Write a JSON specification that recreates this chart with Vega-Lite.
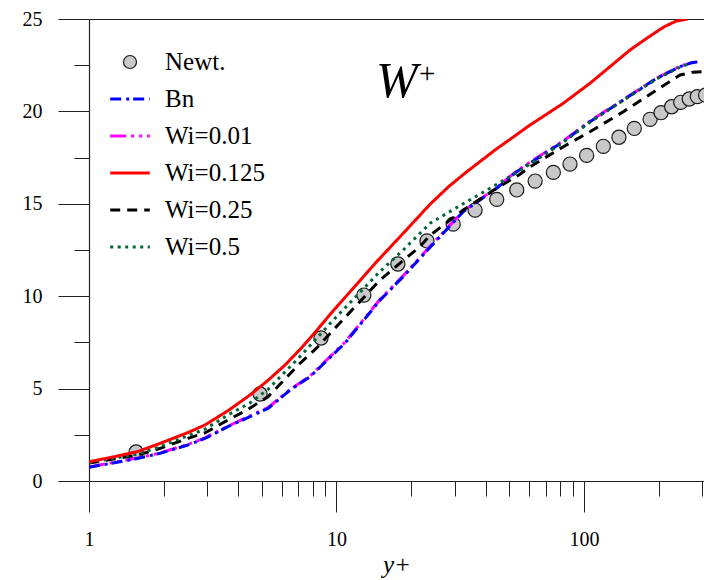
{
  "$schema": "https://vega.github.io/schema/vega-lite/v6.json",
  "width": 615,
  "height": 462,
  "autosize": {"type": "none"},
  "padding": {"left": 89, "top": 19, "right": 0, "bottom": 99},
  "background": "white",
  "config": {
    "view": {"stroke": null},
    "font": "Liberation Serif",
    "axis": {
      "labelFont": "Liberation Serif",
      "labelFontSize": 20,
      "labelColor": "#000",
      "tickColor": "#222",
      "tickWidth": 1,
      "domainColor": "#222",
      "domainWidth": 1.2,
      "grid": false,
      "labelFlush": false,
      "labelOverlap": false
    },
    "legend": {
      "labelFont": "Liberation Serif",
      "labelFontSize": 25,
      "labelColor": "#000",
      "labelOffset": 22.5,
      "rowPadding": 11,
      "padding": 0,
      "titlePadding": 0
    }
  },
  "resolve": {"axis": {"x": "independent", "y": "independent"}},
  "datasets": {
    "newt": [
      {"yp": 1.55, "w": 1.57, "s": "Newt."}, {"yp": 4.91, "w": 4.71, "s": "Newt."}, {"yp": 8.66, "w": 7.74, "s": "Newt."},
      {"yp": 12.9, "w": 10.06, "s": "Newt."}, {"yp": 17.7, "w": 11.74, "s": "Newt."}, {"yp": 23.2, "w": 12.99, "s": "Newt."},
      {"yp": 29.6, "w": 13.9, "s": "Newt."}, {"yp": 36.3, "w": 14.66, "s": "Newt."}, {"yp": 44.4, "w": 15.24, "s": "Newt."},
      {"yp": 53.5, "w": 15.75, "s": "Newt."}, {"yp": 63.5, "w": 16.23, "s": "Newt."}, {"yp": 75.2, "w": 16.7, "s": "Newt."},
      {"yp": 87.8, "w": 17.15, "s": "Newt."}, {"yp": 102.5, "w": 17.62, "s": "Newt."}, {"yp": 119.7, "w": 18.11, "s": "Newt."},
      {"yp": 138.4, "w": 18.6, "s": "Newt."}, {"yp": 159.7, "w": 19.08, "s": "Newt."}, {"yp": 184.9, "w": 19.57, "s": "Newt."},
      {"yp": 204.8, "w": 19.93, "s": "Newt."}, {"yp": 226, "w": 20.25, "s": "Newt."}, {"yp": 245.9, "w": 20.49, "s": "Newt."},
      {"yp": 266.3, "w": 20.67, "s": "Newt."}, {"yp": 287, "w": 20.8, "s": "Newt."}, {"yp": 310, "w": 20.88, "s": "Newt."}
    ],
    "lines": [
      {"s": "Wi=0.01", "x": 1, "y": 0.76}, {"s": "Wi=0.01", "x": 1.58, "y": 1.25}, {"s": "Wi=0.01", "x": 1.94, "y": 1.52},
      {"s": "Wi=0.01", "x": 2.51, "y": 1.98}, {"s": "Wi=0.01", "x": 2.94, "y": 2.33}, {"s": "Wi=0.01", "x": 3.64, "y": 2.96},
      {"s": "Wi=0.01", "x": 4.47, "y": 3.52}, {"s": "Wi=0.01", "x": 5.29, "y": 3.97}, {"s": "Wi=0.01", "x": 6.49, "y": 4.95},
      {"s": "Wi=0.01", "x": 7.82, "y": 5.68}, {"s": "Wi=0.01", "x": 10.8, "y": 7.5}, {"s": "Wi=0.01", "x": 15.0, "y": 9.83},
      {"s": "Wi=0.01", "x": 18.6, "y": 11.1}, {"s": "Wi=0.01", "x": 23.9, "y": 12.7}, {"s": "Wi=0.01", "x": 32.5, "y": 14.6},
      {"s": "Wi=0.01", "x": 44.4, "y": 15.88}, {"s": "Wi=0.01", "x": 53.5, "y": 16.78}, {"s": "Wi=0.01", "x": 66.4, "y": 17.6},
      {"s": "Wi=0.01", "x": 82.5, "y": 18.4}, {"s": "Wi=0.01", "x": 105.7, "y": 19.47}, {"s": "Wi=0.01", "x": 144.2, "y": 20.64},
      {"s": "Wi=0.01", "x": 196.7, "y": 21.8}, {"s": "Wi=0.01", "x": 244.4, "y": 22.45}, {"s": "Wi=0.01", "x": 270, "y": 22.63},
      {"s": "Wi=0.01", "x": 285, "y": 22.68},

      {"s": "Bn", "x": 1, "y": 0.74}, {"s": "Bn", "x": 1.58, "y": 1.23}, {"s": "Bn", "x": 1.94, "y": 1.5},
      {"s": "Bn", "x": 2.51, "y": 1.95}, {"s": "Bn", "x": 2.94, "y": 2.3}, {"s": "Bn", "x": 3.64, "y": 2.94},
      {"s": "Bn", "x": 4.47, "y": 3.48}, {"s": "Bn", "x": 5.29, "y": 3.93}, {"s": "Bn", "x": 6.49, "y": 4.92},
      {"s": "Bn", "x": 7.82, "y": 5.64}, {"s": "Bn", "x": 10.8, "y": 7.45}, {"s": "Bn", "x": 15.0, "y": 9.79},
      {"s": "Bn", "x": 18.6, "y": 11.06}, {"s": "Bn", "x": 23.9, "y": 12.65}, {"s": "Bn", "x": 32.5, "y": 14.57},
      {"s": "Bn", "x": 44.4, "y": 15.84}, {"s": "Bn", "x": 53.5, "y": 16.74}, {"s": "Bn", "x": 66.4, "y": 17.55},
      {"s": "Bn", "x": 82.5, "y": 18.36}, {"s": "Bn", "x": 105.7, "y": 19.44}, {"s": "Bn", "x": 144.2, "y": 20.62},
      {"s": "Bn", "x": 196.7, "y": 21.79}, {"s": "Bn", "x": 244.4, "y": 22.42}, {"s": "Bn", "x": 270, "y": 22.62},
      {"s": "Bn", "x": 290, "y": 22.69},

      {"s": "Wi=0.25", "x": 1, "y": 0.97}, {"s": "Wi=0.25", "x": 1.58, "y": 1.41}, {"s": "Wi=0.25", "x": 1.94, "y": 1.77},
      {"s": "Wi=0.25", "x": 2.51, "y": 2.31}, {"s": "Wi=0.25", "x": 2.94, "y": 2.6}, {"s": "Wi=0.25", "x": 3.64, "y": 3.3},
      {"s": "Wi=0.25", "x": 4.34, "y": 3.84}, {"s": "Wi=0.25", "x": 5.29, "y": 4.56}, {"s": "Wi=0.25", "x": 7.12, "y": 6.37},
      {"s": "Wi=0.25", "x": 8.32, "y": 7.2}, {"s": "Wi=0.25", "x": 9.71, "y": 8.17}, {"s": "Wi=0.25", "x": 12.0, "y": 9.49},
      {"s": "Wi=0.25", "x": 15.0, "y": 10.88}, {"s": "Wi=0.25", "x": 21.7, "y": 12.68}, {"s": "Wi=0.25", "x": 23.9, "y": 13.3},
      {"s": "Wi=0.25", "x": 32.5, "y": 14.66}, {"s": "Wi=0.25", "x": 44.4, "y": 15.84}, {"s": "Wi=0.25", "x": 55.1, "y": 16.6},
      {"s": "Wi=0.25", "x": 60.5, "y": 17.0}, {"s": "Wi=0.25", "x": 82.5, "y": 18.09}, {"s": "Wi=0.25", "x": 105.7, "y": 18.9},
      {"s": "Wi=0.25", "x": 144.2, "y": 19.98}, {"s": "Wi=0.25", "x": 196.7, "y": 21.16}, {"s": "Wi=0.25", "x": 244.4, "y": 21.97},
      {"s": "Wi=0.25", "x": 275, "y": 22.12}, {"s": "Wi=0.25", "x": 305, "y": 22.15},

      {"s": "Wi=0.5", "x": 1, "y": 1.0}, {"s": "Wi=0.5", "x": 1.58, "y": 1.46}, {"s": "Wi=0.5", "x": 1.94, "y": 1.86},
      {"s": "Wi=0.5", "x": 2.51, "y": 2.45}, {"s": "Wi=0.5", "x": 2.94, "y": 2.8}, {"s": "Wi=0.5", "x": 3.64, "y": 3.57},
      {"s": "Wi=0.5", "x": 4.47, "y": 4.22}, {"s": "Wi=0.5", "x": 5.29, "y": 4.96}, {"s": "Wi=0.5", "x": 7.12, "y": 6.73},
      {"s": "Wi=0.5", "x": 9.71, "y": 8.71}, {"s": "Wi=0.5", "x": 14.75, "y": 11.24}, {"s": "Wi=0.5", "x": 18.6, "y": 12.5},
      {"s": "Wi=0.5", "x": 23.9, "y": 13.95}, {"s": "Wi=0.5", "x": 32.5, "y": 15.0}, {"s": "Wi=0.5", "x": 44.4, "y": 16.05},
      {"s": "Wi=0.5", "x": 53.5, "y": 16.7}, {"s": "Wi=0.5", "x": 66.4, "y": 17.5}, {"s": "Wi=0.5", "x": 82.5, "y": 18.33},
      {"s": "Wi=0.5", "x": 105.7, "y": 19.42}, {"s": "Wi=0.5", "x": 144.2, "y": 20.6}, {"s": "Wi=0.5", "x": 196.7, "y": 21.76},
      {"s": "Wi=0.5", "x": 244.4, "y": 22.4}, {"s": "Wi=0.5", "x": 270, "y": 22.6},

      {"s": "Wi=0.125", "x": 1, "y": 1.04}, {"s": "Wi=0.125", "x": 1.25, "y": 1.3}, {"s": "Wi=0.125", "x": 1.58, "y": 1.6},
      {"s": "Wi=0.125", "x": 1.94, "y": 2.04}, {"s": "Wi=0.125", "x": 2.51, "y": 2.62}, {"s": "Wi=0.125", "x": 2.94, "y": 3.03},
      {"s": "Wi=0.125", "x": 3.64, "y": 3.8}, {"s": "Wi=0.125", "x": 4.47, "y": 4.65}, {"s": "Wi=0.125", "x": 5.29, "y": 5.45},
      {"s": "Wi=0.125", "x": 6.2, "y": 6.28}, {"s": "Wi=0.125", "x": 7.12, "y": 7.12}, {"s": "Wi=0.125", "x": 8.32, "y": 8.15},
      {"s": "Wi=0.125", "x": 9.71, "y": 9.22}, {"s": "Wi=0.125", "x": 12.0, "y": 10.6}, {"s": "Wi=0.125", "x": 14.75, "y": 11.96},
      {"s": "Wi=0.125", "x": 19.2, "y": 13.6}, {"s": "Wi=0.125", "x": 23.9, "y": 14.98}, {"s": "Wi=0.125", "x": 28.5, "y": 15.95},
      {"s": "Wi=0.125", "x": 33.5, "y": 16.72}, {"s": "Wi=0.125", "x": 43.7, "y": 17.91}, {"s": "Wi=0.125", "x": 60.5, "y": 19.26},
      {"s": "Wi=0.125", "x": 82.5, "y": 20.44}, {"s": "Wi=0.125", "x": 105.7, "y": 21.52}, {"s": "Wi=0.125", "x": 130, "y": 22.52},
      {"s": "Wi=0.125", "x": 153.4, "y": 23.32}, {"s": "Wi=0.125", "x": 179, "y": 23.95}, {"s": "Wi=0.125", "x": 209, "y": 24.55},
      {"s": "Wi=0.125", "x": 235, "y": 24.88}, {"s": "Wi=0.125", "x": 262, "y": 25.0}
    ]
  },
  "layer": [
    {
      "data": {"name": "newt"},
      "mark": {"type": "point", "shape": "circle", "filled": true, "fill": "#c8c8c8", "stroke": "#1a1a1a", "strokeWidth": 1.2, "size": 200, "opacity": 1, "clip": true},
      "encoding": {
        "x": {
          "field": "yp", "type": "quantitative",
          "scale": {"type": "log", "domain": [1, 305.4], "nice": false},
          "axis": {
            "orient": "bottom", "values": [1, 10, 100], "tickSize": 31, "labelPadding": 17, "labelFontSize": 20,
            "title": "y+", "titleFont": "Liberation Serif", "titleFontStyle": "italic", "titleFontWeight": "normal",
            "titleFontSize": 25, "titleColor": "#000", "titlePadding": 3, "domain": true
          }
        },
        "y": {
          "field": "w", "type": "quantitative",
          "scale": {"domain": [0, 25], "nice": false, "zero": false},
          "axis": {"orient": "left", "values": [0, 5, 10, 15, 20, 25], "tickSize": 31, "labelPadding": 16, "labelFontSize": 20, "title": null, "domain": true}
        },
        "shape": {
          "field": "s", "type": "nominal",
          "scale": {"domain": ["Newt."], "range": ["circle"]},
          "legend": {"orient": "none", "legendX": 28.5, "legendY": 30.5, "title": null, "symbolSize": 169, "symbolStrokeWidth": 1.2, "symbolOpacity": 1}
        }
      }
    },
    {
      "data": {"name": "lines"},
      "mark": {"type": "line", "strokeWidth": 3, "clip": true},
      "encoding": {
        "x": {
          "field": "x", "type": "quantitative",
          "scale": {"type": "log", "domain": [1, 305.4], "nice": false},
          "axis": {"orient": "bottom", "values": [2, 3, 4, 5, 6, 7, 8, 9, 20, 30, 40, 50, 60, 70, 80, 90, 200, 300], "tickSize": 15, "labels": false, "domain": false, "title": null}
        },
        "y": {
          "field": "y", "type": "quantitative",
          "scale": {"domain": [0, 25], "nice": false, "zero": false},
          "axis": {"orient": "left", "values": [2.5, 7.5, 12.5, 17.5, 22.5], "tickSize": 15, "labels": false, "domain": false, "title": null}
        },
        "color": {
          "field": "s", "type": "nominal",
          "scale": {
            "domain": ["Bn", "Wi=0.01", "Wi=0.125", "Wi=0.25", "Wi=0.5"],
            "range": ["#0000ff", "#ff00ff", "#ff0000", "#000000", "#006633"]
          },
          "legend": {
            "orient": "none", "legendX": 28.5, "legendY": 67.5, "title": null,
            "symbolType": "M-2.2,0H2.2", "symbolSize": 324, "symbolStrokeWidth": 3
          }
        },
        "strokeDash": {
          "field": "s", "type": "nominal",
          "scale": {
            "domain": ["Bn", "Wi=0.01", "Wi=0.125", "Wi=0.25", "Wi=0.5"],
            "range": [[11, 5, 3, 4], [16, 5, 3, 5, 3, 5], [1, 0], [10, 7], [3, 4.5]]
          },
          "legend": {
            "orient": "none", "legendX": 28.5, "legendY": 67.5, "title": null,
            "symbolType": "M-2.2,0H2.2", "symbolSize": 324, "symbolStrokeWidth": 3
          }
        }
      }
    },
    {
      "data": {"values": [{}]},
      "mark": {"type": "text", "text": "W", "font": "Liberation Serif", "fontStyle": "italic", "fontSize": 50, "align": "left", "baseline": "alphabetic", "color": "#000"},
      "encoding": {
        "x": {
          "datum": 14.44, "type": "quantitative",
          "scale": {"type": "log", "domain": [1, 305.4], "nice": false},
          "axis": {"orient": "top", "domain": true, "ticks": false, "labels": false, "title": null}
        },
        "y": {"datum": 20.78, "type": "quantitative", "scale": {"domain": [0, 25], "nice": false, "zero": false}, "axis": null}
      }
    },
    {
      "data": {"values": [{}]},
      "mark": {"type": "text", "text": "+", "font": "Liberation Serif", "fontSize": 29, "align": "left", "baseline": "alphabetic", "color": "#000"},
      "encoding": {
        "x": {"datum": 21.54, "type": "quantitative", "scale": {"type": "log", "domain": [1, 305.4], "nice": false}, "axis": null},
        "y": {"datum": 21.51, "type": "quantitative", "scale": {"domain": [0, 25], "nice": false, "zero": false}, "axis": null}
      }
    }
  ]
}
